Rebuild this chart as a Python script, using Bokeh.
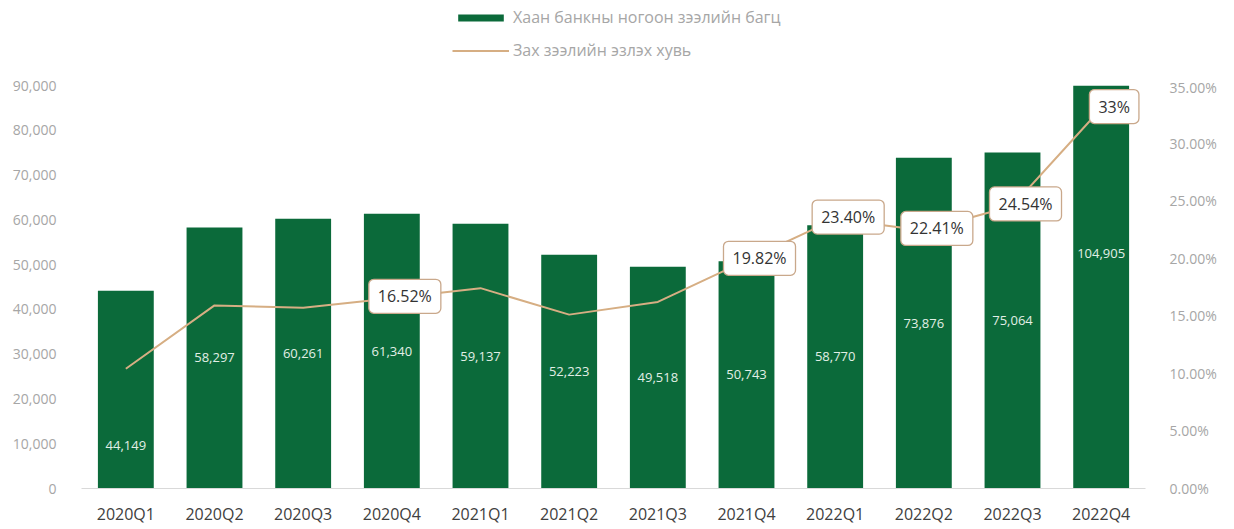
from bokeh.plotting import figure
from bokeh.layouts import column
from bokeh.models import (ColumnDataSource, Range1d, FactorRange, LinearAxis, SingleIntervalTicker,
                          NumeralTickFormatter, PrintfTickFormatter, Legend, LegendItem)
from bokeh.core.properties import value
from bokeh.embed import file_html
from bokeh.resources import INLINE

categories = ["2020Q1", "2020Q2", "2020Q3", "2020Q4", "2021Q1", "2021Q2",
              "2021Q3", "2021Q4", "2022Q1", "2022Q2", "2022Q3", "2022Q4"]
loans = [44149, 58297, 60261, 61340, 59137, 52223, 49518, 50743, 58770, 73876, 75064, 104905]
share = [10.4, 15.9, 15.7, 16.52, 17.4, 15.1, 16.2, 19.82, 23.40, 22.41, 24.54, 33.0]
callout_index = [3, 7, 8, 9, 10, 11]
callout_text = ["16.52%", "19.82%", "23.40%", "22.41%", "24.54%", "33%"]
series_names = ["Хаан банкны ногоон зээлийн багц", "Зах зээлийн эзлэх хувь"]

FONT = "Open Sans"
GREEN = "#0b6a3a"
TAN = "#d6ae83"
W = 1226

loan_labels = ["{:,}".format(v) for v in loans]
label_y = [v / 2 for v in loans]
label_y[0] = loans[0] * 0.215

src = ColumnDataSource(dict(cat=categories, loans=loans, share=share,
                            lab=loan_labels, laby=label_y))
csrc = ColumnDataSource(dict(cat=[categories[i] for i in callout_index],
                             share=[share[i] for i in callout_index],
                             txt=callout_text))

# ---- legend strip (hidden copies of the series, only their legend entries show) ----
lg = figure(width=W, height=77, x_range=FactorRange(*categories),
            y_range=Range1d(-2, -1), x_axis_location=None, y_axis_location=None,
            toolbar_location=None, output_backend="svg",
            min_border_left=0, min_border_right=0, min_border_top=0, min_border_bottom=0)
lg.outline_line_color = None
lg.xgrid.grid_line_color = None
lg.ygrid.grid_line_color = None
lbar = lg.vbar(x="cat", top="loans", width=0.63, source=src, fill_color=GREEN, line_color=None,
               visible=False)
lline = lg.line(x="cat", y="share", source=src, line_color=TAN, line_width=2, visible=False)
legend = Legend(items=[LegendItem(label=series_names[0], renderers=[lbar]),
                       LegendItem(label=series_names[1], renderers=[lline])],
                location=(371, 16), orientation="vertical", border_line_color=None,
                background_fill_alpha=0, inactive_fill_alpha=0,
                glyph_width=57, glyph_height=9, label_height=20,
                spacing=11, padding=1, margin=0, label_text_font=FONT,
                label_text_font_size="16px", label_text_color="#a6a6a6", label_standoff=4)
lg.add_layout(legend)

# ---- main chart ----
p = figure(width=W, height=450, x_range=FactorRange(*categories, range_padding=0),
           y_range=Range1d(0, 90000), output_backend="svg", toolbar_location=None,
           min_border_left=81, min_border_right=81, min_border_top=8, min_border_bottom=0)
p.extra_y_ranges = {"pct": Range1d(0, 35)}
p.outline_line_color = None
p.background_fill_color = "white"
p.xgrid.grid_line_color = None
p.ygrid.grid_line_color = None

bars = p.vbar(x="cat", top="loans", width=0.63, source=src, fill_color=GREEN, line_color=None)
p.text(x="cat", y="laby", text="lab", source=src, text_align="center", text_baseline="middle",
       text_color="#e2efe6", text_font=value(FONT), text_font_size="13px")
line = p.line(x="cat", y="share", source=src, y_range_name="pct", line_color=TAN, line_width=2)
p.text(x="cat", y="share", text="txt", source=csrc, y_range_name="pct", x_offset=13, y_offset=-2,
       text_align="center", text_baseline="middle", text_color="#333333",
       text_font=value(FONT), text_font_size="16px",
       background_fill_color="white", border_line_color="#c9a88b", border_line_width=1.3,
       padding=dict(left=9, right=9, top=6, bottom=6), border_radius=5)

# axes
p.yaxis.ticker = SingleIntervalTicker(interval=10000)
p.yaxis.formatter = NumeralTickFormatter(format="0,0")
p.yaxis.axis_line_color = None
p.yaxis.major_tick_line_color = None
p.yaxis.minor_tick_line_color = None
p.yaxis.major_tick_out = 0
p.yaxis.major_label_standoff = 21
p.yaxis.major_label_text_color = "#a6a6a6"
p.yaxis.major_label_text_font = FONT
p.yaxis.major_label_text_font_size = "14px"

ra = LinearAxis(y_range_name="pct", ticker=SingleIntervalTicker(interval=5),
                formatter=PrintfTickFormatter(format="%.2f%%"))
ra.axis_line_color = None
ra.major_tick_line_color = None
ra.minor_tick_line_color = None
ra.major_tick_out = 0
ra.major_label_standoff = 20
ra.major_label_text_color = "#a6a6a6"
ra.major_label_text_font = FONT
ra.major_label_text_font_size = "14px"
p.add_layout(ra, "right")

p.xaxis.axis_line_color = "#d9d9d9"
p.xaxis.major_tick_line_color = None
p.xaxis.minor_tick_line_color = None
p.xaxis.major_tick_out = 0
p.xaxis.major_label_standoff = 14
p.xaxis.major_label_text_color = "#404040"
p.xaxis.major_label_text_font = FONT
p.xaxis.major_label_text_font_size = "16px"

open("out.html", "w").write(file_html(column(lg, p, spacing=0), INLINE))
